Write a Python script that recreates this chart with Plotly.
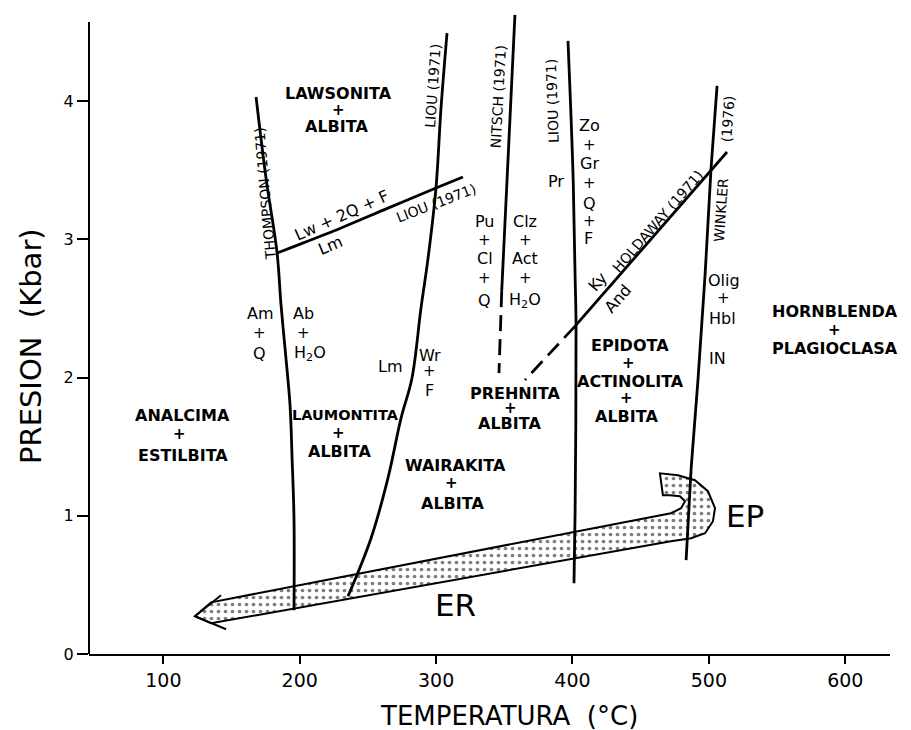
import plotly.graph_objects as go

FONT = "DejaVu Sans"

# ---------------- data (T in °C, P in kbar) ----------------
x_range = [45.5, 632.8]
y_range = [0, 4.639]
axis_top = 4.574
x_ticks = [100, 200, 300, 400, 500, 600]
y_ticks = [0, 1, 2, 3, 4]

thompson_T = [168.0, 175.3, 183.4, 186.3, 189.2, 192.9, 194.4, 195.8, 195.8]
thompson_P = [4.031, 3.444, 2.902, 2.526, 2.215, 1.801, 1.417, 0.983, 0.316]

liou_lm_T = [308.0, 303.6, 299.9, 294.1, 288.9, 282.3, 274.3, 264.7, 252.3, 235.4]
liou_lm_P = [4.494, 3.951, 3.372, 2.865, 2.503, 1.996, 1.707, 1.273, 0.838, 0.418]

liou_lw_T = [183.4, 196.6, 230.3, 264.7, 299.9, 319.7]
liou_lw_P = [2.902, 2.952, 3.083, 3.227, 3.372, 3.452]

nitsch_T = [357.8, 348.1]
nitsch_P = [4.625, 2.626]
nitsch_dash_T = [348.1, 346.1]
nitsch_dash_P = [2.626, 2.033]

liou_pr_T = [396.7, 400.4, 401.9, 402.6, 401.9, 401.1]
liou_pr_P = [4.437, 3.466, 2.742, 2.380, 1.018, 0.512]

winkler_T = [506.0, 501.6, 497.2, 492.1, 487.0, 483.3]
winkler_P = [4.111, 3.517, 2.742, 1.996, 1.345, 0.679]

holdaway_T = [513.3, 501.6, 401.9]
holdaway_P = [3.633, 3.500, 2.373]
holdaway_dash_T = [401.9, 365.2]
holdaway_dash_P = [2.373, 1.983]

# P-T path band (ER / EP)
path_T = [123.2, 135.0, 472.2, 479.6, 482.5, 478.8, 471.5, 466.3, 464.1, 477.3,
          489.8, 499.3, 504.5, 503.0, 497.2, 486.9, 472.2, 135.0, 123.2]
path_P = [0.273, 0.374, 1.019, 1.055, 1.106, 1.142, 1.149, 1.149, 1.308, 1.294,
          1.258, 1.178, 1.055, 0.961, 0.874, 0.838, 0.816, 0.222, 0.273]
barb_T = [142.3, 123.2, 146.0]
barb_P = [0.425, 0.273, 0.179]

# mineral assemblage labels (bold)
bold_text = ["LAWSONITA", "+", "ALBITA",
             "ANALCIMA", "+", "ESTILBITA",
             "LAUMONTITA", "+", "ALBITA",
             "WAIRAKITA", "+", "ALBITA",
             "PREHNITA", "+", "ALBITA",
             "EPIDOTA", "+", "ACTINOLITA", "+", "ALBITA",
             "HORNBLENDA", "+", "PLAGIOCLASA"]
bold_T = [228.1, 228.1, 226.6,
          114.4, 112.2, 114.4,
          233.2, 228.1, 228.8,
          313.9, 311.0, 311.7,
          358.2, 354.9, 353.5,
          442.5, 441.1, 442.2, 439.3, 439.6,
          592.3, 592.3, 592.3]
bold_P = [4.059, 3.936, 3.821,
          1.728, 1.591, 1.439,
          1.728, 1.598, 1.468,
          1.366, 1.236, 1.091,
          1.888, 1.779, 1.671,
          2.236, 2.105, 1.975, 1.852, 1.721,
          2.480, 2.344, 2.214]

# reaction labels (regular)
small_text = ["Am", "+", "Q", "Ab", "+", "H<sub>2</sub>O",
              "Lm", "Wr", "+", "F",
              "Pu", "+", "Cl", "+", "Q",
              "Clz", "+", "Act", "+", "H<sub>2</sub>O",
              "Pr", "Zo", "+", "Gr", "+", "Q", "+", "F",
              "Olig", "+", "Hbl", "IN"]
small_T = [171.0, 170.6, 170.6, 203.1, 202.9, 207.5,
           266.2, 295.5, 295.5, 295.5,
           335.8, 335.8, 335.8, 335.8, 335.8,
           365.2, 365.2, 365.2, 365.2, 365.2,
           387.8, 412.8, 412.8, 412.8, 412.8, 412.8, 412.8, 411.5,
           511.0, 511.0, 510.0, 506.2]
small_P = [2.467, 2.322, 2.177, 2.467, 2.322, 2.177,
           2.083, 2.163, 2.047, 1.910,
           3.132, 2.994, 2.865, 2.720, 2.561,
           3.132, 2.994, 2.865, 2.720, 2.561,
           3.422, 3.828, 3.683, 3.553, 3.408, 3.263, 3.132, 3.009,
           2.706, 2.576, 2.431, 2.142]

# literature references along curves (rotated)
ref_text = ["THOMPSON (1971)", "LIOU (1971)", "NITSCH (1971)", "LIOU (1971)",
            "WINKLER", "(1976)", "HOLDAWAY (1971)", "LIOU (1971)"]
ref_T = [174.6, 297.6, 345.6, 385.4, 508.9, 514.0, 462.8, 300.2]
ref_P = [3.329, 4.111, 4.031, 4.000, 3.213, 3.878, 3.132, 3.265]

# reaction text along curves
rxn_text = ["Lw + 2Q + F", "Lm", "Ky", "And"]
rxn_T = [230.5, 222.2, 418.6, 433.3]
rxn_P = [3.177, 2.960, 2.697, 2.574]

# path names
path_text = ["ER", "EP"]
path_lbl_T = [314.0, 526.8]
path_lbl_P = [0.353, 0.997]

# ---------------- figure ----------------
fig = go.Figure()

fig.add_trace(go.Scatter(
    x=path_T, y=path_P, mode="lines", fill="toself", fillcolor="white",
    fillpattern=dict(shape=".", fgcolor="black", bgcolor="white", size=7, solidity=0.22),
    line=dict(color="black", width=2), hoverinfo="skip", showlegend=False))
fig.add_trace(go.Scatter(x=barb_T, y=barb_P, mode="lines",
                         line=dict(color="black", width=2), hoverinfo="skip", showlegend=False))

solid_curves = [
    (thompson_T, thompson_P, "spline"),
    (liou_lm_T, liou_lm_P, "spline"),
    (liou_lw_T, liou_lw_P, "spline"),
    (nitsch_T, nitsch_P, "linear"),
    (liou_pr_T, liou_pr_P, "spline"),
    (winkler_T, winkler_P, "linear"),
    (holdaway_T, holdaway_P, "linear"),
]
for tx, py, shp in solid_curves:
    fig.add_trace(go.Scatter(x=tx, y=py, mode="lines", line=dict(color="black", width=2.8, shape=shp),
                             hoverinfo="skip", showlegend=False))
for tx, py in [(nitsch_dash_T, nitsch_dash_P), (holdaway_dash_T, holdaway_dash_P)]:
    fig.add_trace(go.Scatter(x=tx, y=py, mode="lines",
                             line=dict(color="black", width=2.8, dash="16px,8px"),
                             hoverinfo="skip", showlegend=False))

ann = []
for t, x, y in zip(bold_text, bold_T, bold_P):
    if t == "+":
        size = 15
    elif t == "LAUMONTITA":
        size = 14.5
    else:
        size = 16
    ann.append(dict(text=t, x=x, y=y, showarrow=False, xanchor="center", yanchor="middle",
                    font=dict(family=FONT, size=size, color="black", weight="bold")))
for t, x, y in zip(small_text, small_T, small_P):
    ann.append(dict(text=t, x=x, y=y, showarrow=False, xanchor="center", yanchor="middle",
                    font=dict(family=FONT, size=16 if t != "+" else 15, color="black")))
ref_angles = [-95, -86, -87, -92, -86, -86, -49, -21]
for t, x, y, a in zip(ref_text, ref_T, ref_P, ref_angles):
    ann.append(dict(text=t, x=x, y=y, showarrow=False, xanchor="center", yanchor="middle",
                    textangle=a, font=dict(family=FONT, size=14, color="black")))
rxn_angles = [-24, -23, -49, -49]
for t, x, y, a in zip(rxn_text, rxn_T, rxn_P, rxn_angles):
    ann.append(dict(text=t, x=x, y=y, showarrow=False, xanchor="center", yanchor="middle",
                    textangle=a, font=dict(family=FONT, size=16, color="black")))
for t, x, y in zip(path_text, path_lbl_T, path_lbl_P):
    ann.append(dict(text=t, x=x, y=y, showarrow=False, xanchor="center", yanchor="middle",
                    font=dict(family=FONT, size=31, color="black")))

# axis titles
ann.append(dict(text="TEMPERATURA  (°C)", xref="paper", yref="paper", x=0.5243, y=-0.097,
                showarrow=False, xanchor="center", yanchor="middle",
                font=dict(family=FONT, size=26, color="black")))
ann.append(dict(text="PRESION  (Kbar)", xref="paper", yref="paper", x=-0.0724, y=0.4805,
                showarrow=False, xanchor="center", yanchor="middle", textangle=-90,
                font=dict(family=FONT, size=29, color="black")))

fig.update_layout(
    width=911, height=730,
    margin=dict(l=81, r=29, t=5, b=84),
    paper_bgcolor="white", plot_bgcolor="white",
    showlegend=False,
    annotations=ann,
    shapes=[dict(type="line", xref="paper", x0=0, x1=0, yref="y", y0=0, y1=axis_top,
                 line=dict(color="black", width=2))],
)
fig.update_xaxes(range=x_range, tickvals=x_ticks, ticks="outside", ticklen=8, tickwidth=2,
                 tickcolor="black", showline=True, linecolor="black", linewidth=2,
                 showgrid=False, zeroline=False,
                 tickfont=dict(family=FONT, size=19, color="black"))
fig.update_yaxes(range=y_range, tickvals=y_ticks, ticks="outside", ticklen=11, tickwidth=2,
                 tickcolor="black", showline=False, showgrid=False, zeroline=False,
                 tickfont=dict(family=FONT, size=16, color="black"))

fig.write_html("out.html")
